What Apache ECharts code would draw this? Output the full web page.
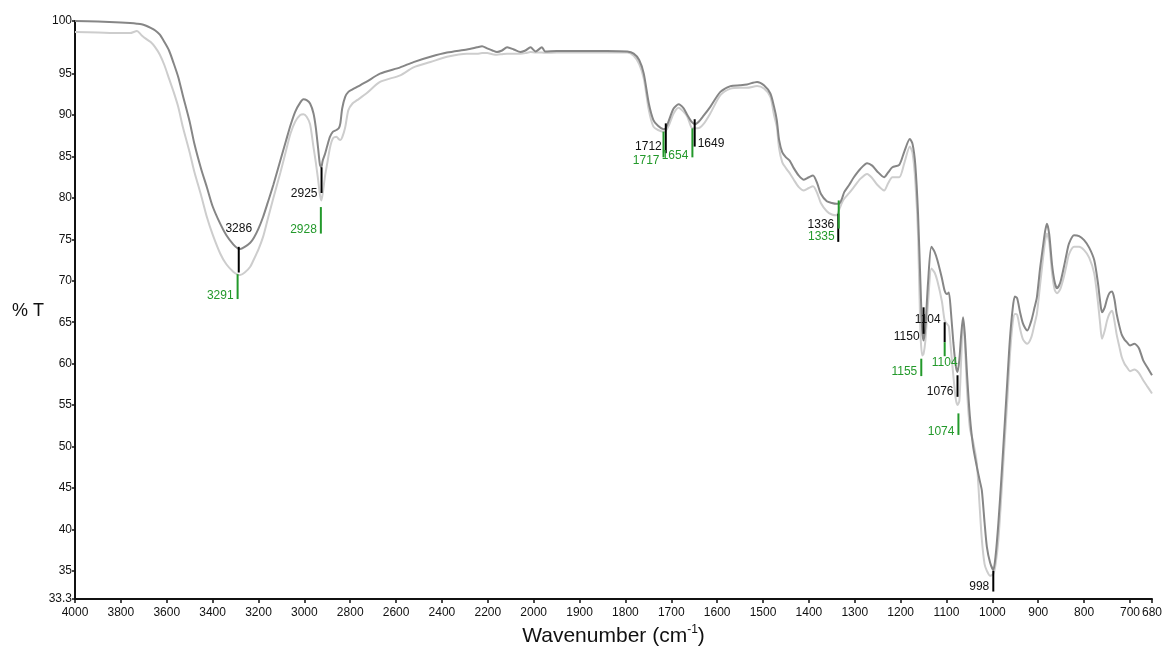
<!DOCTYPE html>
<html><head><meta charset="utf-8">
<script src="https://cdn.jsdelivr.net/npm/echarts@6/dist/echarts.min.js"></script>
<style>html,body{margin:0;padding:0;background:#fff}#chart{width:1164px;height:655px}</style>
</head><body><div id="chart"></div>
<script>
// ---- data (wavenumber in cm-1, transmittance in %T) ----
const wavenumbers = [
 4000,3900,3800,3760,3730,3710,3690,3670,3650,3630,
 3610,3590,3570,3550,3530,3500,3480,3450,3425,3400,
 3367,3340,3310,3290,3280,3260,3236,3220,3200,3180,
 3160,3135,3105,3080,3060,3040,3018,3004,2990,2975,
 2960,2950,2940,2932,2926,2920,2910,2900,2888,2875,
 2860,2850,2843,2835,2822,2808,2790,2770,2730,2670,
 2582,2524,2450,2378,2291,2247,2225,2203,2180,2160,
 2138,2116,2087,2058,2036,2014,1996,1982,1975,1950,
 1898,1840,1796,1782,1770,1760,1749,1739,1729,1717,
 1712,1705,1695,1684,1673,1665,1656,1649,1642,1630,
 1615,1593,1571,1550,1535,1513,1498,1484,1476,1470,
 1465,1458,1450,1442,1433,1422,1411,1400,1391,1382,
 1374,1361,1350,1340,1334,1328,1323,1312,1302,1288,
 1273,1262,1251,1236,1227,1218,1203,1192,1180,1174,
 1168,1162,1157,1153,1150,1146,1140,1133,1126,1120,
 1110,1104,1099,1095,1090,1085,1080,1076,1072,1068,
 1064,1060,1055,1049,1042,1034,1028,1023,1017,1012,
 1005,998,993,987,980,973,967,962,956,951,
 946,940,933,924,915,908,903,896,890,885,
 881,876,870,864,859,852,844,838,833,822,
 811,800,789,778,770,765,761,755,750,745,
 739,734,729,723,718,712,707,700,696,692,
 688,684,680
];
const darkT = [
 100.0,99.95,99.85,99.8,99.75,99.7,99.55,99.35,99.1,98.7,
 98.0,97.2,96.0,94.6,92.4,89.2,86.6,83.5,81.3,79.0,
 76.9,75.5,74.4,73.9,73.85,74.1,74.6,75.2,76.3,77.7,
 79.4,81.6,84.5,86.9,88.8,90.4,91.5,91.9,91.8,91.4,
 90.2,88.5,86.0,84.0,83.7,84.5,85.3,86.3,87.4,88.0,
 88.2,88.4,89.0,90.8,92.2,92.8,93.1,93.4,94.0,95.0,
 95.6,96.1,96.6,97.0,97.3,97.5,97.6,97.4,97.2,97.05,
 97.2,97.5,97.3,97.05,97.2,97.5,97.1,97.5,97.1,97.15,
 97.15,97.15,97.1,96.9,96.3,95.0,91.4,89.4,88.7,88.3,
 88.4,89.4,90.8,91.3,90.8,90.0,89.2,88.9,89.1,89.9,
 91.0,92.8,93.5,93.6,93.7,94.0,93.6,92.6,91.0,89.4,
 87.0,85.5,84.9,84.5,83.6,82.7,82.2,82.5,82.7,81.8,
 80.5,79.6,79.4,79.3,79.3,79.9,80.7,81.6,82.5,83.5,
 84.2,83.9,83.2,82.5,83.1,83.7,84.0,85.6,87.1,86.5,
 84.0,78.0,70.0,64.0,62.8,64.5,70.0,74.1,73.5,72.5,
 70.3,68.8,68.4,68.6,66.0,62.5,59.8,59.0,60.5,63.5,
 65.6,63.5,58.5,53.6,50.0,47.6,46.0,44.7,40.8,37.9,
 36.0,35.1,36.8,40.7,46.5,52.8,58.3,62.8,66.5,68.1,
 67.9,66.3,64.8,64.0,65.2,66.8,68.0,71.5,74.0,76.0,
 76.9,75.6,72.0,69.8,69.1,69.8,71.7,73.3,74.5,75.5,
 75.4,74.9,74.0,72.5,69.8,67.5,66.2,66.8,67.8,68.5,
 68.7,67.8,66.0,64.5,63.5,62.9,62.6,62.2,62.4,61.9,
 60.4,59.5,58.6
];
const lightT = [
 98.95,98.9,98.85,98.85,99.05,98.65,98.3,98.0,97.5,96.8,
 95.8,94.4,92.8,91.0,88.6,85.5,83.2,80.3,77.7,75.6,
 73.3,72.0,71.1,70.75,70.7,71.0,71.7,72.6,73.8,75.3,
 77.4,80.0,83.0,85.7,87.8,89.2,90.0,90.1,89.8,88.9,
 86.1,84.3,82.2,80.4,79.7,80.5,82.6,84.2,86.1,87.2,
 87.4,87.1,87.0,87.3,88.5,90.6,91.4,91.8,92.6,94.0,
 94.8,95.6,96.1,96.6,96.9,96.9,96.95,96.95,96.85,96.8,
 96.85,96.9,96.9,96.9,96.95,97.05,97.0,97.0,96.99,97.0,
 97.0,97.0,97.0,96.7,95.9,94.4,90.6,88.6,88.2,88.0,
 88.1,88.8,90.2,90.9,90.4,89.8,88.5,88.4,88.4,88.9,
 90.2,92.4,93.2,93.3,93.3,93.5,93.2,92.2,90.0,88.6,
 86.0,84.3,83.6,83.0,82.2,81.3,80.9,81.2,81.4,80.6,
 79.4,78.4,78.0,77.9,78.6,79.4,79.9,80.6,81.3,82.3,
 82.9,82.4,81.6,80.9,81.8,82.5,82.5,84.2,86.2,85.4,
 82.0,75.5,64.0,61.0,61.2,62.8,67.5,71.5,71.0,70.0,
 67.5,65.2,64.8,64.5,61.5,58.5,55.8,55.0,55.5,60.5,
 65.2,62.5,56.5,52.2,50.6,48.0,43.0,38.8,35.8,35.0,
 34.7,34.8,35.8,38.7,44.5,50.8,56.0,60.8,64.8,66.0,
 65.9,64.3,62.9,62.4,63.2,64.8,66.0,69.5,72.5,74.8,
 75.7,74.6,71.0,68.9,68.5,69.0,70.5,72.0,73.2,74.1,
 74.1,73.7,72.8,70.9,67.5,64.8,63.0,64.0,65.2,66.0,
 66.4,65.2,63.5,62.0,60.8,60.0,59.6,59.1,59.3,58.9,
 58.0,57.2,56.4
];
const xTickLabels = [4000,3800,3600,3400,3200,3000,2800,2600,2400,2200,2000,1900,1800,1700,1600,1500,1400,1300,1200,1100,1000,900,800,700,680];
const yTickLabels = [33.3,35,40,45,50,55,60,65,70,75,80,85,90,95,100];
// peak annotations: wavenumber, marker span (%T), label level (%T), text, which curve, label side
const peakMarks = [
 {wn:3286, top:74.1, bottom:71.0, labelAt:76.3, text:'3286', curve:'dark',  side:'center'},
 {wn:3291, top:70.8, bottom:67.8, labelAt:68.2, text:'3291', curve:'light', side:'left'},
 {wn:2925, top:83.7, bottom:80.6, labelAt:80.5, text:'2925', curve:'dark',  side:'left'},
 {wn:2928, top:78.9, bottom:75.7, labelAt:76.2, text:'2928', curve:'light', side:'left'},
 {wn:1712, top:89.0, bottom:85.4, labelAt:86.2, text:'1712', curve:'dark',  side:'left'},
 {wn:1717, top:88.0, bottom:84.9, labelAt:84.5, text:'1717', curve:'light', side:'left'},
 {wn:1654, top:88.4, bottom:84.9, labelAt:85.1, text:'1654', curve:'light', side:'left'},
 {wn:1649, top:89.5, bottom:86.2, labelAt:86.5, text:'1649', curve:'dark',  side:'right'},
 {wn:1336, top:78.1, bottom:74.7, labelAt:76.8, text:'1336', curve:'dark',  side:'left'},
 {wn:1335, top:79.7, bottom:76.3, labelAt:75.3, text:'1335', curve:'light', side:'left'},
 {wn:1150, top:66.8, bottom:63.6, labelAt:63.3, text:'1150', curve:'dark',  side:'left'},
 {wn:1104, top:65.0, bottom:62.6, labelAt:65.3, text:'1104', curve:'dark',  side:'left'},
 {wn:1104, top:62.6, bottom:60.9, labelAt:60.1, text:'1104', curve:'light', side:'center'},
 {wn:1155, top:60.6, bottom:58.5, labelAt:59.0, text:'1155', curve:'light', side:'left'},
 {wn:1076, top:58.6, bottom:56.0, labelAt:56.6, text:'1076', curve:'dark',  side:'left'},
 {wn:1074, top:54.0, bottom:51.4, labelAt:51.8, text:'1074', curve:'light', side:'left'},
 {wn:998,  top:35.0, bottom:33.75,labelAt:34.05,text:'998',  curve:'dark',  side:'left'}
];

// ---- axis scale (the original plot's axes are piecewise: 4000-2000 compressed 2x, ends stretched) ----
function xPos(w){ return w >= 2000 ? (4000 - w) / 2 : (w >= 700 ? 1000 + (2000 - w) : 2300 + (700 - w) * 2.4); }
function yPos(t){ return t > 95 ? 95 + (t - 95) * 1.271 : (t < 35 ? 35 - (35 - t) * 2.0 : t); }
const xTickPos = xTickLabels.map(xPos);
const yTickPos = yTickLabels.map(yPos);
function lookup(posArr, labArr, v){
  for (let i = 0; i < posArr.length; i++) if (Math.abs(posArr[i] - v) < 0.01) return String(labArr[i]);
  return '';
}

const FONT = 'Arial, "Liberation Sans", sans-serif';
const GREEN = '#23992b';
const DARK = '#868686';
const LIGHT = '#cdcdcd';

const darkData = wavenumbers.map((w, i) => [xPos(w), yPos(darkT[i])]);
const lightData = wavenumbers.map((w, i) => [xPos(w), yPos(lightT[i])]);
const markData = peakMarks.map(m => [xPos(m.wn), yPos(m.top), yPos(m.bottom), yPos(m.labelAt)]);

const chart = echarts.init(document.getElementById('chart'), null, {renderer: 'canvas'});
chart.setOption({
  animation: false,
  backgroundColor: '#fff',
  grid: {left: 75, top: 21, right: 12, bottom: 56, containLabel: false, outerBoundsMode: 'none'},
  xAxis: {
    type: 'value', min: xPos(4000), max: xPos(680),
    name: 'Wavenumber (cm{sup|-1})', nameLocation: 'middle', nameGap: 23,
    nameTextStyle: {fontFamily: FONT, fontSize: 21, color: '#111',
      rich: {sup: {fontFamily: FONT, fontSize: 12, color: '#111', verticalAlign: 'top', padding: [0, 0, 12, 0]}}},
    axisLine: {show: true, lineStyle: {color: '#111', width: 2}},
    axisTick: {show: true, length: 4, inside: false, customValues: xTickPos, lineStyle: {color: '#111', width: 1.5}},
    axisLabel: {customValues: xTickPos, margin: 8, fontFamily: FONT, fontSize: 12, color: '#111',
      formatter: v => lookup(xTickPos, xTickLabels, v), hideOverlap: false},
    splitLine: {show: false}
  },
  yAxis: {
    type: 'value', min: yPos(33.3), max: yPos(100),
    axisLine: {show: true, lineStyle: {color: '#111', width: 2}},
    axisTick: {show: true, length: 3, inside: false, customValues: yTickPos, lineStyle: {color: '#111', width: 1.5}},
    axisLabel: {customValues: yTickPos, margin: 3, fontFamily: FONT, fontSize: 12, color: '#111',
      formatter: v => lookup(yTickPos, yTickLabels, v)},
    splitLine: {show: false}
  },
  graphic: [{type: 'text', left: 12, top: 302, style: {text: '% T', font: '18px ' + FONT, fill: '#111'}}],
  series: [
    {type: 'line', name: 'light', data: lightData, showSymbol: false, smooth: 0.25,
     lineStyle: {color: LIGHT, width: 2}, z: 2},
    {type: 'line', name: 'dark', data: darkData, showSymbol: false, smooth: 0.25,
     lineStyle: {color: DARK, width: 2}, z: 3},
    {type: 'custom', name: 'peaks', data: markData, z: 5, clip: false,
     renderItem: function (params, api) {
       const m = peakMarks[params.dataIndex];
       const p1 = api.coord([api.value(0), api.value(1)]);
       const p2 = api.coord([api.value(0), api.value(2)]);
       const pl = api.coord([api.value(0), api.value(3)]);
       const col = m.curve === 'dark' ? '#000' : GREEN;
       const tcol = m.curve === 'dark' ? '#111' : GREEN;
       let tx = p1[0], align = 'center';
       if (m.side === 'left') { tx = p1[0] - 4; align = 'right'; }
       else if (m.side === 'right') { tx = p1[0] + 3; align = 'left'; }
       return {type: 'group', children: [
         {type: 'line', shape: {x1: p1[0], y1: p1[1], x2: p2[0], y2: p2[1]}, style: {stroke: col, lineWidth: 2}},
         {type: 'text', x: tx, y: pl[1], style: {text: m.text, fill: tcol, font: '12px ' + FONT,
           align: align, verticalAlign: 'middle', textAlign: align, textVerticalAlign: 'middle'}}
       ]};
     }}
  ]
});
</script></body></html>
